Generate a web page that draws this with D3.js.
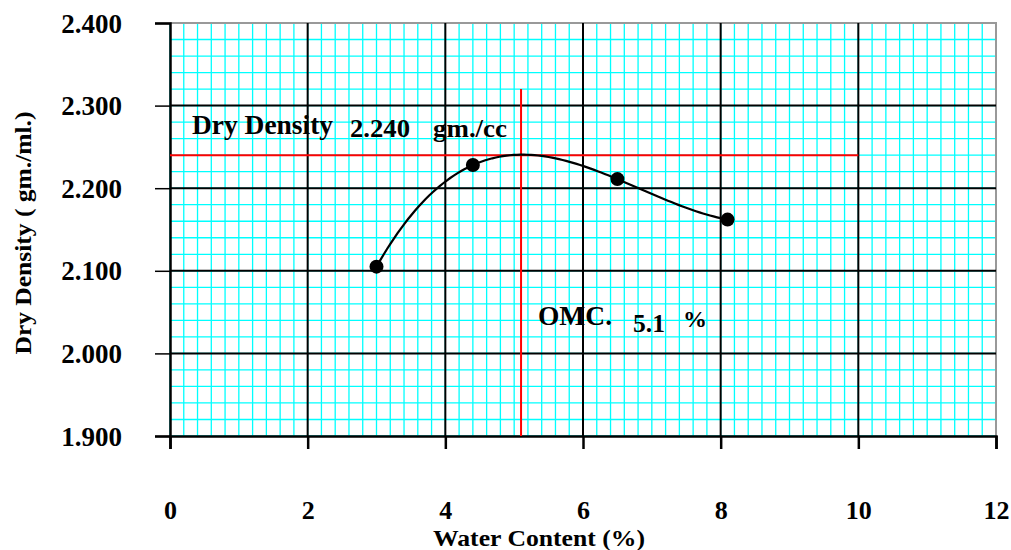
<!DOCTYPE html>
<html>
<head>
<meta charset="utf-8">
<script src="https://cdn.jsdelivr.net/npm/d3@7"></script>
<style>
  html, body { margin: 0; padding: 0; background: #fff; }
  svg { display: block; }
  text { font-family: "Liberation Serif", "Times New Roman", serif; font-weight: bold; fill: #000; }
</style>
</head>
<body>
<svg id="chart" width="1011" height="550"></svg>
<script>
// ---- data ----
const waterContent = [3.0, 4.4, 6.5, 8.1];
const dryDensity = [2.105, 2.228, 2.211, 2.162];
const xTicks = [0, 2, 4, 6, 8, 10, 12];
const yTicks = [1.9, 2.0, 2.1, 2.2, 2.3, 2.4];
const maxDryDensity = 2.240;
const omc = 5.1;
const omcLineTop = 2.32;
const densityLineEnd = 10;
const xLabel = "Water Content  (%)";
const yLabel = "Dry Density  ( gm./ml.)";

// ---- layout ----
const svg = d3.select("#chart");
const x = d3.scaleLinear().domain([0, 12]).range([170, 996]);
const y = d3.scaleLinear().domain([1.9, 2.4]).range([436, 23]);

const minorX = d3.range(0, 12.0001, 0.2);
const minorY = d3.range(1.9, 2.40001, 0.02);

// minor grid (cyan)
svg.append("g").selectAll("line").data(minorX).join("line")
  .attr("x1", d => x(d)).attr("x2", d => x(d))
  .attr("y1", y(2.4)).attr("y2", y(1.9))
  .attr("stroke", "#00FFFF").attr("stroke-width", 1.3);
svg.append("g").selectAll("line").data(minorY).join("line")
  .attr("y1", d => y(d)).attr("y2", d => y(d))
  .attr("x1", x(0)).attr("x2", x(12))
  .attr("stroke", "#00FFFF").attr("stroke-width", 1.3);

// frame top/right (gray)
svg.append("path")
  .attr("d", `M${x(0)},${y(2.4)}H${x(12)}V${y(1.9)}`)
  .attr("fill", "none").attr("stroke", "#999").attr("stroke-width", 2);

// annotations (under major grid)
const ann = svg.append("g");
ann.append("text").attr("x", 192).attr("y", 134).attr("font-size", 27).attr("textLength", 141).attr("lengthAdjust", "spacingAndGlyphs").text("Dry Density");
ann.append("text").attr("x", 350).attr("y", 137).attr("font-size", 25).attr("textLength", 60).attr("lengthAdjust", "spacingAndGlyphs").text(maxDryDensity.toFixed(3));
ann.append("text").attr("x", 433).attr("y", 137).attr("font-size", 25).attr("textLength", 74).attr("lengthAdjust", "spacingAndGlyphs").text("gm./cc");
ann.append("text").attr("x", 538).attr("y", 325).attr("font-size", 27).attr("textLength", 74).attr("lengthAdjust", "spacingAndGlyphs").text("OMC.");
ann.append("text").attr("x", 633).attr("y", 332).attr("font-size", 26).attr("textLength", 32).attr("lengthAdjust", "spacingAndGlyphs").text(String(omc));
ann.append("text").attr("x", 683).attr("y", 327).attr("font-size", 24).attr("textLength", 24).attr("lengthAdjust", "spacingAndGlyphs").text("%");

// major grid (black)
svg.append("g").selectAll("line").data(xTicks.filter(d => d > 0 && d < 12)).join("line")
  .attr("x1", d => x(d)).attr("x2", d => x(d))
  .attr("y1", y(2.4)).attr("y2", y(1.9))
  .attr("stroke", "#000").attr("stroke-width", 2);
svg.append("g").selectAll("line").data(yTicks.filter(d => d > 1.9 && d < 2.4)).join("line")
  .attr("y1", d => y(d)).attr("y2", d => y(d))
  .attr("x1", x(0)).attr("x2", x(12))
  .attr("stroke", "#000").attr("stroke-width", 2);

// axes
const xAxis = d3.axisBottom(x).tickValues(xTicks).tickSize(13).tickPadding(52).tickFormat(d3.format("d"));
const gx = svg.append("g").attr("transform", `translate(0,${y(1.9)})`).call(xAxis);
gx.select(".domain").attr("stroke", "#000").attr("stroke-width", 2.5);
gx.selectAll(".tick line").attr("stroke", "#000").attr("stroke-width", 2.5);
gx.selectAll(".tick text").attr("font-size", 26).attr("font-family", "Liberation Serif").attr("font-weight", "bold").attr("fill", "#000");

const yAxis = d3.axisLeft(y).tickValues(yTicks).tickSize(15).tickPadding(33).tickFormat(d3.format(".3f"));
const gy = svg.append("g").attr("transform", `translate(${x(0)},0)`).call(yAxis);
gy.select(".domain").attr("stroke", "#000").attr("stroke-width", 2.5);
gy.selectAll(".tick line").attr("stroke", "#000").attr("stroke-width", 1.5);
gy.selectAll(".tick text").attr("font-size", 27).attr("font-family", "Liberation Serif").attr("font-weight", "bold").attr("fill", "#000").attr("dy", "0.34em");

// red reference lines
svg.append("line")
  .attr("x1", x(0)).attr("x2", x(densityLineEnd))
  .attr("y1", y(maxDryDensity)).attr("y2", y(maxDryDensity))
  .attr("stroke", "#FF0000").attr("stroke-width", 2);
svg.append("line")
  .attr("x1", x(omc)).attr("x2", x(omc))
  .attr("y1", y(omcLineTop)).attr("y2", y(1.9))
  .attr("stroke", "#FF0000").attr("stroke-width", 2);

// cubic polynomial trendline through the measured points (order 3)
const pts = waterContent.map((w, i) => [w, dryDensity[i]]);
function lagrange(xv) {
  let s = 0;
  for (let i = 0; i < pts.length; i++) {
    let t = pts[i][1];
    for (let j = 0; j < pts.length; j++) if (j !== i) t *= (xv - pts[j][0]) / (pts[i][0] - pts[j][0]);
    s += t;
  }
  return s;
}
const xMin = d3.min(waterContent), xMax = d3.max(waterContent);
const trend = d3.range(0, 101).map(k => { const xv = xMin + (xMax - xMin) * k / 100; return [xv, lagrange(xv)]; });
const line = d3.line().x(d => x(d[0])).y(d => y(d[1]));
svg.append("path").datum(trend).attr("d", line)
  .attr("fill", "none").attr("stroke", "#000").attr("stroke-width", 2.2);

svg.append("g").selectAll("circle").data(pts).join("circle")
  .attr("cx", d => x(d[0])).attr("cy", d => y(d[1])).attr("r", 7).attr("fill", "#000");

// axis titles
svg.append("text").attr("x", 539).attr("y", 546).attr("text-anchor", "middle")
  .attr("font-size", 23).attr("textLength", 212).attr("lengthAdjust", "spacingAndGlyphs").text(xLabel);
svg.append("text").attr("transform", "translate(31,233) rotate(-90)").attr("text-anchor", "middle")
  .attr("font-size", 23).attr("textLength", 243).attr("lengthAdjust", "spacingAndGlyphs").text(yLabel);
</script>
</body>
</html>
